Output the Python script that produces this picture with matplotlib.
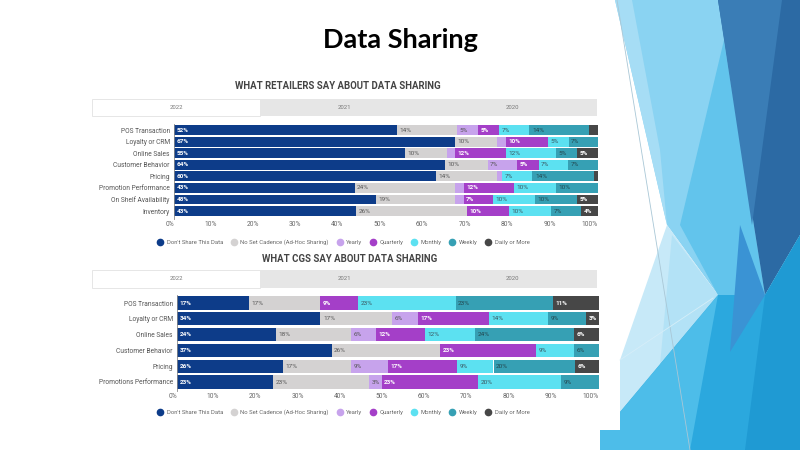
import numpy as np
import matplotlib.pyplot as plt
from matplotlib.patches import Polygon, Rectangle
from matplotlib.lines import Line2D

plt.rcParams['font.family'] = ['Roboto', 'DejaVu Sans']

# series shared by both charts
series = ["Don't Share This Data", 'No Set Cadence (Ad-Hoc Sharing)', 'Yearly',
          'Quarterly', 'Monthly', 'Weekly', 'Daily or More']
colors = ['#0d3c89', '#d4d2d2', '#c7a3ec', '#a43fc8', '#5ce1f1', '#36a0b4', '#474747']
text_colors = ['white', '#555555', '#555555', 'white', '#3b5660', '#23464e', 'white']
years = ['2022', '2021', '2020']

# retailers
retail_cats = ['POS Transaction', 'Loyalty or CRM', 'Online Sales', 'Customer Behavior',
               'Pricing', 'Promotion Performance', 'On Shelf Availability', 'Inventory']
retail_dont = [52, 67, 55, 64, 60, 43, 48, 43]
retail_adhoc = [14, 10, 10, 10, 14, 24, 19, 26]
retail_yearly = [5, 2, 2, 7, 1, 2, 2, 0]
retail_quarterly = [5, 10, 12, 5, 0, 12, 7, 10]
retail_monthly = [7, 5, 12, 7, 7, 10, 10, 10]
retail_weekly = [14, 7, 5, 7, 14, 10, 10, 7]
retail_daily = [2, 0, 5, 0, 1, 0, 5, 4]

# CGs
cgs_cats = ['POS Transaction', 'Loyalty or CRM', 'Online Sales', 'Customer Behavior',
            'Pricing', 'Promotions Performance']
cgs_dont = [17, 34, 24, 37, 26, 23]
cgs_adhoc = [17, 17, 18, 26, 17, 23]
cgs_yearly = [0, 6, 6, 0, 9, 3]
cgs_quarterly = [9, 17, 12, 23, 17, 23]
cgs_monthly = [23, 14, 12, 9, 9, 20]
cgs_weekly = [23, 9, 24, 6, 20, 9]
cgs_daily = [11, 3, 6, 0, 6, 0]

W, H = 800, 450
fig = plt.figure(figsize=(8, 4.5), dpi=100)
fig.patch.set_facecolor('white')


def px(x, y):
    # pixel position (top-left origin) -> figure fraction
    return (x / W, 1 - y / H)


def poly(points, color, z=0):
    fig.add_artist(Polygon([px(*p) for p in points], closed=True, facecolor=color,
                           edgecolor='none', transform=fig.transFigure, zorder=z))


# background facets on the right side
poly([(615, 0), (740, 0), (765, 295), (718, 295), (667, 225)], '#8ad3f2')
poly([(615, 0), (632, 0), (660, 150), (667, 225)], '#a6ddf5')
poly([(667, 225), (718, 295), (620, 412), (620, 360)], '#c7e9f8')
poly([(672, 235), (718, 295), (660, 365)], '#b3e2f6')
poly([(724, 40), (765, 295), (718, 295), (680, 225)], '#62c4ec')
poly([(718, 0), (800, 0), (800, 235), (765, 295)], '#2c6aa4')
poly([(718, 0), (782, 0), (752, 225)], '#3a7db6')
poly([(620, 412), (718, 295), (765, 295), (800, 235), (800, 450), (600, 450),
      (600, 430), (620, 430)], '#2ba8de')
poly([(620, 412), (718, 295), (690, 450), (600, 450), (600, 430), (620, 430)], '#4dbde9')
poly([(765, 295), (800, 235), (800, 450), (745, 450)], '#1f9ad3')
poly([(740, 225), (765, 295), (730, 352)], '#3a93d4')
fig.add_artist(Line2D([617 / W, 690 / W], [1, 0], color='#a9c7d6', lw=0.6,
                      transform=fig.transFigure))
fig.add_artist(Line2D([620 / W, 713 / W], [1 - 360 / H, 1 - 298 / H], color='#d6eef8',
                      lw=0.6, transform=fig.transFigure))

fig.text(0.5, 1 - 40 / H, 'Data Sharing', ha='center', va='center', fontsize=19.5,
         fontweight='bold', family=['Lato', 'DejaVu Sans'], color='black')


def draw_tabs(y_top, y_bot):
    xs = [92, 260, 428, 597]
    for k in range(3):
        x0, y0 = px(xs[k], y_bot)
        w = (xs[k + 1] - xs[k]) / W
        h = (y_bot - y_top) / H
        face = 'white' if k == 0 else '#e6e6e6'
        edge = '#e2e2e2' if k == 0 else 'none'
        fig.add_artist(Rectangle((x0, y0), w, h, facecolor=face, edgecolor=edge, lw=0.6,
                                 transform=fig.transFigure))
        fig.text((xs[k] + xs[k + 1]) / 2 / W, 1 - (y_top + y_bot) / 2 / H, years[k],
                 ha='center', va='center', fontsize=4.3, color='#777777')


def draw_chart(rect, cats, data, ylim, bar_h):
    ax = fig.add_axes(rect)
    ax.set_facecolor('none')
    vals = np.array(data, dtype=float)
    widths = vals / vals.sum(axis=0) * 100
    y = np.arange(len(cats))
    left = np.zeros(len(cats))
    for i in range(len(series)):
        ax.barh(y, widths[i], left=left, height=bar_h, color=colors[i], linewidth=0)
        for j in range(len(cats)):
            if vals[i, j] >= 3:
                ax.text(left[j] + 0.6, y[j], f'{vals[i, j]:.0f}%', ha='left', va='center',
                        fontsize=4.6, color=text_colors[i],
                        fontweight='bold' if text_colors[i] == 'white' else 'normal')
        left += widths[i]
    ax.set_xlim(0, 100)
    ax.set_ylim(*ylim)
    ax.set_yticks(y)
    ax.set_yticklabels(cats, fontsize=4.8, color='#555555')
    ticks = np.arange(0, 101, 10)
    ax.set_xticks(ticks)
    ax.set_xticklabels([f'{t}%' for t in ticks], fontsize=4.8, color='#666666', ha='right')
    ax.tick_params(axis='y', length=0, pad=3)
    ax.tick_params(axis='x', length=0, pad=1.5)
    for s in ['top', 'right', 'bottom']:
        ax.spines[s].set_visible(False)
    ax.spines['left'].set_color('#888888')
    ax.spines['left'].set_linewidth(0.6)
    return ax


def draw_legend(y_pix):
    handles = [Line2D([0], [0], marker='o', linestyle='', markerfacecolor=c,
                      markeredgecolor=c, markersize=4.5) for c in colors]
    fig.legend(handles, series, loc='center', bbox_to_anchor=(342 / W, 1 - y_pix / H),
               ncol=7, frameon=False, fontsize=4.2, handletextpad=0.1,
               columnspacing=0.85, labelcolor='#666666', borderaxespad=0)


# retailers chart
fig.text(338 / W, 1 - 86 / H, 'WHAT RETAILERS SAY ABOUT DATA SHARING', ha='center',
         va='center', fontsize=6.9, fontweight='bold', color='#444444')
draw_tabs(99, 116)
retail_data = [retail_dont, retail_adhoc, retail_yearly, retail_quarterly,
               retail_monthly, retail_weekly, retail_daily]
draw_chart([174 / W, 1 - 219 / H, 424 / W, 95 / H], retail_cats, retail_data,
           (7.69, -0.54), 0.86)
draw_legend(242)

# CGs chart
fig.text(350 / W, 1 - 259 / H, 'WHAT CGS SAY ABOUT DATA SHARING', ha='center',
         va='center', fontsize=6.9, fontweight='bold', color='#444444')
draw_tabs(270, 288)
cgs_data = [cgs_dont, cgs_adhoc, cgs_yearly, cgs_quarterly, cgs_monthly, cgs_weekly,
            cgs_daily]
draw_chart([177 / W, 1 - 391 / H, 422 / W, 96 / H], cgs_cats, cgs_data,
           (5.57, -0.51), 0.84)
draw_legend(412)

fig.savefig('out.png', dpi=100)
